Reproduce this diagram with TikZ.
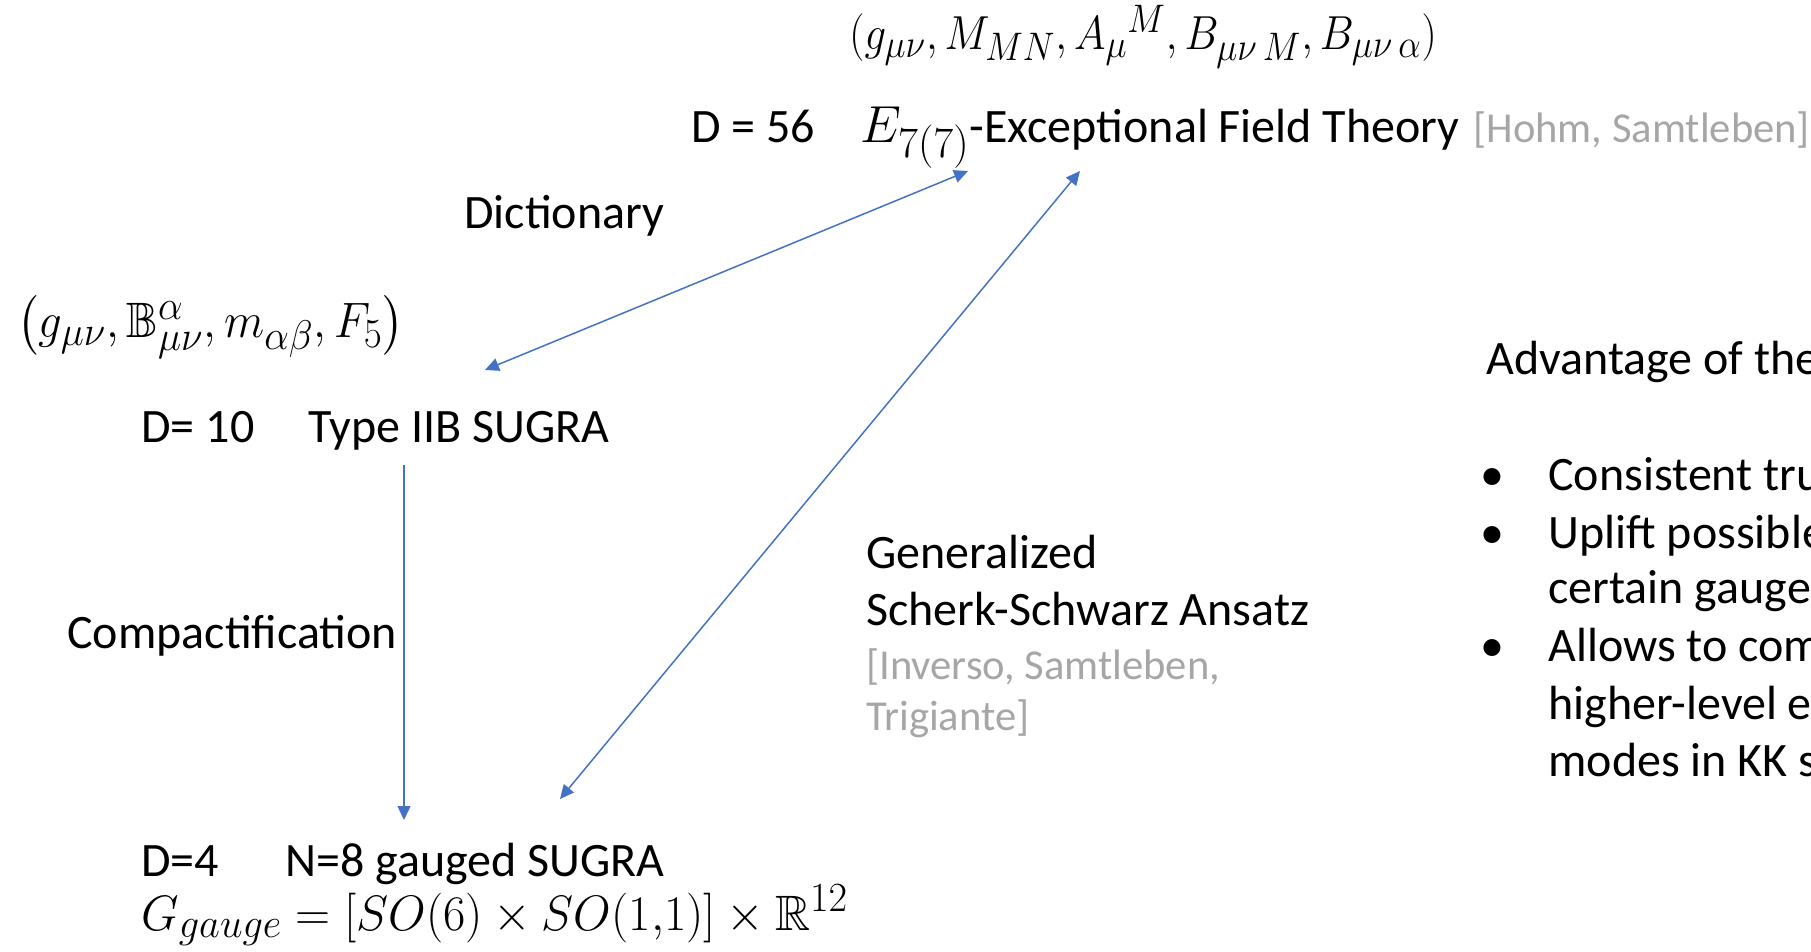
\documentclass[tikz,border=0pt]{standalone}
\usepackage{graphicx}
\usepackage{amssymb}
\usepackage{fontspec}
\setmainfont{Carlito}
\usetikzlibrary{arrows.meta}
\definecolor{arrblue}{HTML}{4472C4}
\definecolor{refgray}{HTML}{A6A6A6}
\tikzset{
  txt/.style={inner sep=0pt, anchor=base west, font=\fontsize{24}{29}\selectfont},
  ref/.style={txt, text=refgray, font=\fontsize{21.3}{26}\selectfont},
  mth/.style={inner sep=0pt, anchor=base west, font=\fontsize{24.88}{30}\selectfont},
  arr/.style={draw=arrblue, line width=0.75pt, -{Triangle[length=7pt,width=6.5pt]}},
  darr/.style={draw=arrblue, line width=0.75pt, {Triangle[length=7pt,width=6.5pt]}-{Triangle[length=7pt,width=6.5pt]}}
}
\begin{document}
\begin{tikzpicture}[x=0.5pt,y=-0.5pt]
\useasboundingbox (0,0) rectangle (1811,952);
\clip (0,0) rectangle (1811,952);
% top
\node[mth] (fields56) at (849,50) {\scalebox{0.86}[0.96]{$(g_{\mu\nu}, M_{MN}, {A_\mu}^{M}, B_{\mu\nu\,M}, B_{\mu\nu\,\alpha})$}};
\node[txt] (d56) at (691,143) {D = 56};
\node[txt] (eft) at (860,143) {{\fontsize{24.88}{30}\selectfont\scalebox{1.047}{$E_{7(7)}$}}-Exceptional Field Theory};
\node[ref] (hs) at (1473,143) {[Hohm, Samtleben]};
\node[txt] (dict) at (464,229) {Dictionary};
% IIB
\node[mth] (fields10) at (17,338) {\scalebox{0.943}[1.0]{$\left(g_{\mu\nu}, \mathbb{B}^{\alpha}_{\mu\nu}, m_{\alpha\beta}, F_5\right)$}};
\node[txt] (d10) at (141,443) {D= 10};
\node[txt] (iib) at (308,443) {Type IIB SUGRA};
\node[txt] (comp) at (67,648) {Compactification};
% Scherk-Schwarz
\node[txt] (gen) at (866,568) {Generalized};
\node[txt] (ss) at (866,625) {Scherk-Schwarz Ansatz};
\node[ref] (ist1) at (866,679) {[Inverso, Samtleben,};
\node[ref] (ist2) at (866,730) {Trigiante]};
% D=4
\node[txt] (d4) at (141,876) {D=4};
\node[txt] (n8) at (285,876) {N=8 gauged SUGRA};
\node[mth] (gg) at (141,930) {\scalebox{0.975}[1.0]{$G_{gauge} = [SO(6)\times SO(1{,}1)]\times \mathbb{R}^{12}$}};
% advantages
\node[txt] (adv) at (1486,375) {Advantage of the};
\node[txt] (b1) at (1480,490) {•};
\node[txt] (t1) at (1548,490) {Consistent tru};
\node[txt] (b2) at (1480,548) {•};
\node[txt] (t2) at (1548,548) {Uplift possible};
\node[txt] (t2b) at (1548,603) {certain gauge};
\node[txt] (b3) at (1480,661) {•};
\node[txt] (t3) at (1548,661) {Allows to com};
\node[txt] (t3b) at (1548,719) {higher-level e};
\node[txt] (t3c) at (1548,776) {modes in KK s};
% arrow end points
\coordinate (iibTop) at (485,370);
\coordinate (eftBotL) at (968,171);
\coordinate (eftBotR) at (1080,171);
\coordinate (iibBot) at (404,465);
\coordinate (n8TopL) at (404,820);
\coordinate (n8TopR) at (560,799);
\draw[darr] (iibTop) -- (eftBotL);
\draw[darr] (n8TopR) -- (eftBotR);
\draw[arr] (iibBot) -- (n8TopL);
\end{tikzpicture}
\end{document}
